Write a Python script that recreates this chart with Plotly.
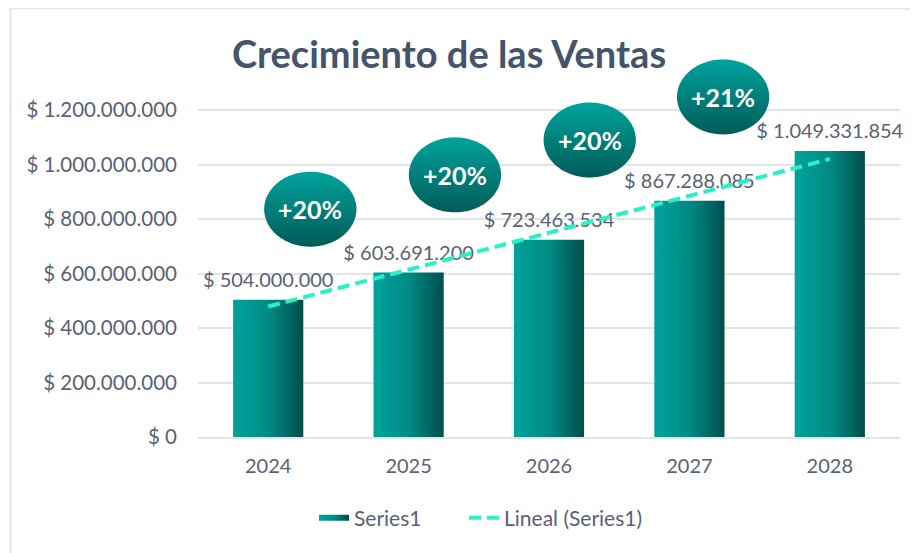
import numpy as np
import plotly.graph_objects as go

# ---------------- data ----------------
years = ["2024", "2025", "2026", "2027", "2028"]
sales = [504000000, 603691200, 723463534, 867288085, 1049331854]
value_labels = ["$ 504.000.000", "$ 603.691.200", "$ 723.463.534",
                "$ 867.288.085", "$ 1.049.331.854"]
y_tick_values = [0, 200000000, 400000000, 600000000, 800000000, 1000000000, 1200000000]
y_tick_labels = ["$ 0", "$ 200.000.000", "$ 400.000.000", "$ 600.000.000",
                 "$ 800.000.000", "$ 1.000.000.000", "$ 1.200.000.000"]
growth_labels = ["+20%", "+20%", "+20%", "+21%"]

# --------------- layout helpers (positions / styles) ---------------
FONT = "Lato"
TEXT_COLOR = "#596275"
TITLE_COLOR = "#44546a"
GRID = "#e1e5ea"
OFF = 8                      # page body margin offset
W, H = 918 - OFF, 553 - OFF
# target screen positions of the plot area
PL, PR, PT, PB = 198, 900, 40, 437
ML, MR, MT, MB = PL - OFF, W - (PR - OFF), PT - OFF, H - (PB - OFF)
px_per_unit_y = 327.0 / 1200000000
Y_TOP = (PB - PT) / px_per_unit_y

bubble_centers = [(0.30, 836e6), (1.33, 962e6), (2.29, 1090e6), (3.24, 1248e6)]
bubble_rx = 46 / 140.0
bubble_ry = 37.5 / px_per_unit_y

idx = np.arange(len(years))
bar_half = 0.25

fig = go.Figure()

# bars with horizontal gradient
for i, v in enumerate(sales):
    fig.add_trace(go.Scatter(
        x=[i - bar_half, i + bar_half, i + bar_half, i - bar_half, i - bar_half],
        y=[0, 0, v, v, 0],
        fill="toself", mode="none",
        fillgradient=dict(type="horizontal",
                          colorscale=[[0, "#00a29c"], [0.5, "#008b86"], [1, "#004e4b"]]),
        name="Series1", legendgroup="s1", showlegend=(i == 0), legend="legend",
        hoverinfo="skip",
    ))

# data labels (invisible markers push the text upward)
fig.add_trace(go.Scatter(
    x=idx, y=sales, mode="text+markers", text=value_labels, textposition="top center",
    marker=dict(size=11, opacity=0), cliponaxis=False,
    textfont=dict(family=FONT, size=20, color=TEXT_COLOR),
    showlegend=False, hoverinfo="skip",
))

# linear trend line
coef = np.polyfit(idx + 1, sales, 1)
tx = np.array([idx[0], idx[-1]])
ty = np.polyval(coef, tx + 1)
fig.add_trace(go.Scatter(
    x=tx, y=ty, mode="lines", name="Lineal (Series1)", legend="legend2",
    line=dict(color="#2af0c8", width=4, dash="12px,6px"),
    hoverinfo="skip",
))

# growth bubbles
theta = np.linspace(0, 2 * np.pi, 120)
for (cx, cy), lab in zip(bubble_centers, growth_labels):
    fig.add_trace(go.Scatter(
        x=cx + bubble_rx * np.cos(theta), y=cy + bubble_ry * np.sin(theta),
        fill="toself", mode="none",
        fillgradient=dict(type="vertical",
                          colorscale=[[0, "#005c58"], [1, "#00a39d"]]),
        showlegend=False, hoverinfo="skip",
    ))
    fig.add_annotation(x=cx, y=cy, text=f"<b>{lab}</b>", showarrow=False,
                       font=dict(family=FONT, size=25, color="white"))

# sheet-like frame decoration (given in screen pixels)
def px_x(p):
    return (p - PL) / (PR - PL)

def px_y(p):
    return (PB - p) / (PB - PT)

frame = "#e3e6ea"
fig.add_shape(type="line", xref="paper", yref="paper",
              x0=px_x(10.5), x1=px_x(10.5), y0=px_y(8), y1=px_y(560),
              line=dict(color=frame, width=2))
fig.add_shape(type="line", xref="paper", yref="paper",
              x0=px_x(10), x1=px_x(930), y0=px_y(8.5), y1=px_y(8.5),
              line=dict(color=frame, width=2))

legend_style = dict(orientation="h", xref="container", yref="container",
                    y=1 - (518 - OFF) / H, xanchor="left", yanchor="middle",
                    font=dict(family=FONT, size=21, color=TEXT_COLOR),
                    bgcolor="rgba(0,0,0,0)")

fig.update_layout(
    width=W, height=H,
    margin=dict(l=ML, r=MR, t=MT, b=MB),
    paper_bgcolor="white", plot_bgcolor="white",
    title=dict(text="<b>Crecimiento de las Ventas</b>",
               font=dict(family=FONT, size=38, color=TITLE_COLOR),
               xref="container", yref="container",
               x=(449 - OFF) / W, y=1 - (55 - OFF) / H, xanchor="center", yanchor="middle"),
    xaxis=dict(range=[-0.5, len(years) - 0.5], tickvals=list(idx), ticktext=years,
               showgrid=False, zeroline=False, showline=True, linecolor=GRID,
               linewidth=1.5, ticks="", ticklabelstandoff=10,
               tickfont=dict(family=FONT, size=20, color=TEXT_COLOR),
               fixedrange=True),
    yaxis=dict(range=[0, Y_TOP], tickvals=y_tick_values, ticktext=y_tick_labels,
               showgrid=True, gridcolor=GRID, gridwidth=1.5, zeroline=False,
               showline=False, ticks="", ticklabelstandoff=20,
               tickfont=dict(family=FONT, size=20.5, color=TEXT_COLOR),
               fixedrange=True),
    legend=dict(legend_style, x=(314 - OFF) / W),
    legend2=dict(legend_style, x=(464 - OFF) / W),
    showlegend=True,
)

fig.write_html("out.html")
